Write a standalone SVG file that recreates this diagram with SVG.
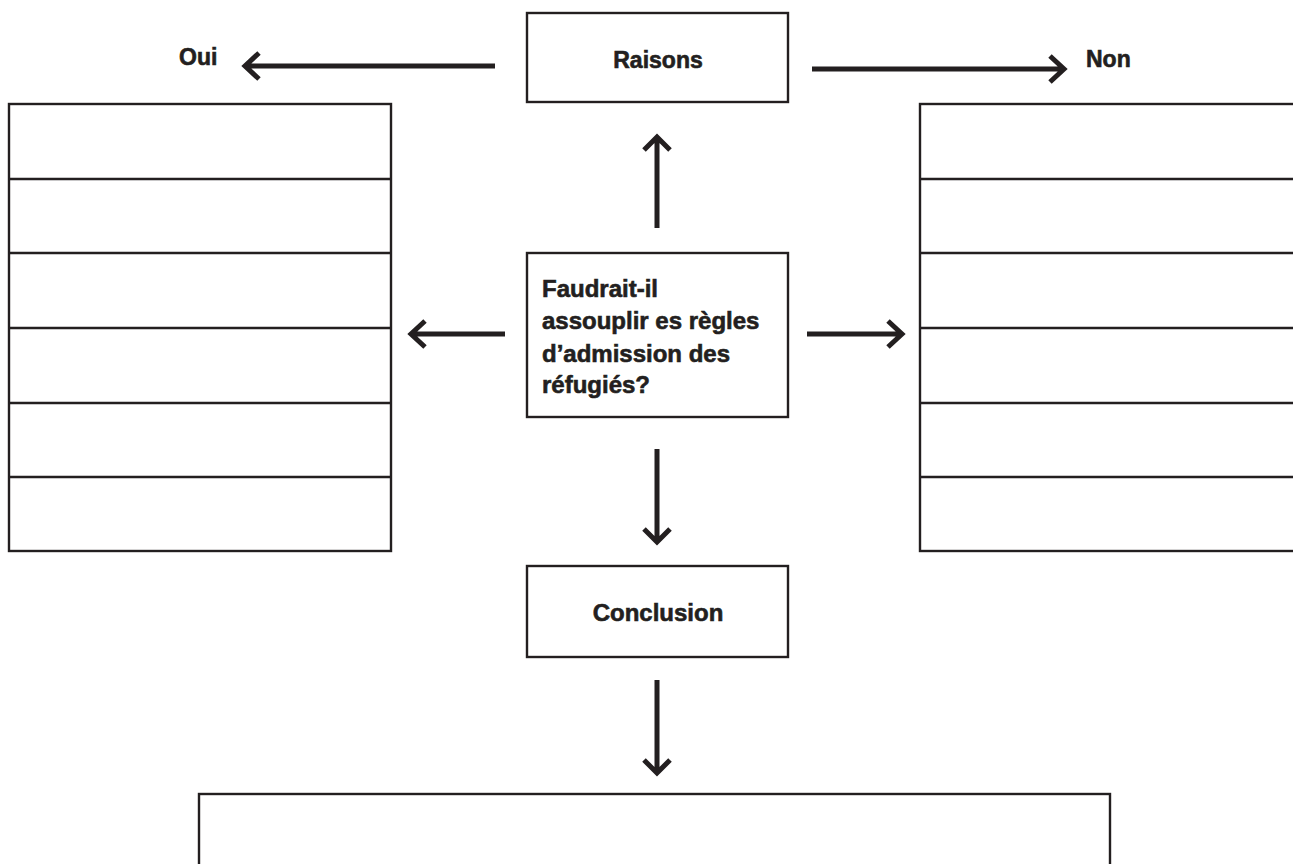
<svg xmlns="http://www.w3.org/2000/svg" width="1293" height="864" viewBox="0 0 1293 864">
  <style>
    .box { fill: #ffffff; stroke: #231f20; stroke-width: 2.4; }
    .row { stroke: #231f20; stroke-width: 2.4; fill: none; }
    .lbl { font-family: "Liberation Sans", Arial, sans-serif; font-weight: bold; fill: #231f20; stroke: #231f20; stroke-width: 0.6; }
    .arr { fill: none; stroke: #231f20; stroke-width: 5; stroke-linejoin: miter; stroke-linecap: butt; }
  </style>
  <rect width="1293" height="864" fill="#ffffff"/>

  <g id="raisons">
    <rect class="box" x="527" y="13" width="261" height="89"/>
    <text class="lbl" x="658" y="68" font-size="23" text-anchor="middle">Raisons</text>
  </g>

  <g id="oui-label">
    <text class="lbl" x="179" y="65" font-size="23">Oui</text>
  </g>

  <g id="non-label">
    <text class="lbl" x="1086" y="67" font-size="23">Non</text>
  </g>

  <g id="question">
    <rect class="box" x="527" y="253" width="261" height="164"/>
    <text class="lbl" font-size="24">
      <tspan x="542" y="297">Faudrait-il</tspan>
      <tspan x="542" y="329">assouplir es règles</tspan>
      <tspan x="542" y="362">d’admission des</tspan>
      <tspan x="542" y="393">réfugiés?</tspan>
    </text>
  </g>

  <g id="oui-list">
    <rect class="box" x="9" y="104" width="382" height="447"/>
    <path class="row" d="M9,179 H391 M9,253 H391 M9,328 H391 M9,403 H391 M9,477 H391"/>
  </g>

  <g id="non-list">
    <rect class="box" x="920" y="104" width="400" height="447"/>
    <path class="row" d="M920,179 H1293 M920,253 H1293 M920,328 H1293 M920,403 H1293 M920,477 H1293"/>
  </g>

  <g id="conclusion">
    <rect class="box" x="527" y="566" width="261" height="91"/>
    <text class="lbl" x="658" y="621" font-size="24" text-anchor="middle">Conclusion</text>
  </g>

  <g id="final-box">
    <rect class="box" x="199" y="794" width="911" height="120"/>
  </g>

  <g id="connectors">
    <path class="arr" d="M495,66 H246 M259,53 L245,66 L259,79"/>
    <path class="arr" d="M812,69 H1063 M1050,56 L1064,69 L1050,82"/>
    <path class="arr" d="M657,228 V137 M644,150 L657,137 L670,150"/>
    <path class="arr" d="M505,334 H412 M425,321 L411,334 L425,347"/>
    <path class="arr" d="M807,334 H901 M888,321 L902,334 L888,347"/>
    <path class="arr" d="M657,449 V542 M644,529 L657,542 L670,529"/>
    <path class="arr" d="M657,680 V773 M644,760 L657,773 L670,760"/>
  </g>
</svg>
